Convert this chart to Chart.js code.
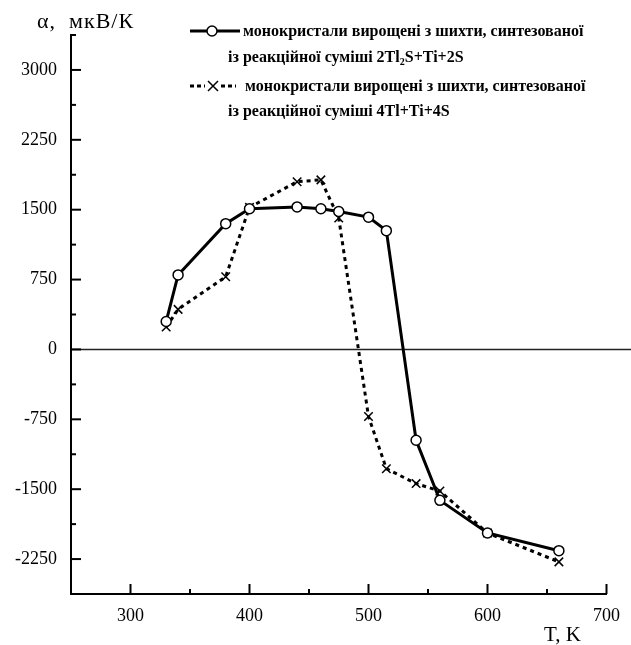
<!DOCTYPE html>
<html>
<head>
<meta charset="utf-8">
<script src="https://cdn.jsdelivr.net/npm/chart.js@4"></script>
<style>
  body { margin: 0; background: #fff; }
  canvas { display: block; }
</style>
</head>
<body>
<canvas id="chart" width="631" height="645"></canvas>
<script>
// data
const tempSolid = [330, 340, 380, 400, 440, 460, 475, 500, 515, 540, 560, 600, 660];
const alphaSolid = [300, 800, 1350, 1510, 1530, 1510, 1480, 1420, 1275, -975, -1620, -1970, -2160];
const tempDashed = [330, 340, 380, 400, 440, 460, 475, 500, 515, 540, 560, 600, 660];
const alphaDashed = [240, 430, 780, 1525, 1800, 1820, 1410, -720, -1280, -1440, -1520, -1970, -2280];

const xTicks = [300, 400, 500, 600, 700];
const yTicks = [-2250, -1500, -750, 0, 750, 1500, 2250, 3000];

const legendLine1 = "монокристали вирощені з шихти, синтезованої";
const legendLine2 = ["із реакційної суміші 2Tl", "2", "S+Ti+2S"];
const legendLine3 = "монокристали вирощені з шихти, синтезованої";
const legendLine4 = "із реакційної суміші 4Tl+Ti+4S";
const yTitle = "α,  мкВ/К";
const xTitle = "T, K";

const serif = '"Liberation Serif", "DejaVu Serif", serif';

function toPoints(xs, ys) {
  return xs.map((x, i) => ({ x: x, y: ys[i] }));
}

// zero line, inward ticks, titles, legend
const extras = {
  id: "extras",
  beforeDatasetsDraw(chart) {
    const ctx = chart.ctx, y = chart.scales.y, area = chart.chartArea;
    const y0 = y.getPixelForValue(0);
    ctx.save();
    ctx.strokeStyle = "#222";
    ctx.lineWidth = 1.5;
    ctx.beginPath();
    ctx.moveTo(area.left, y0);
    ctx.lineTo(chart.width, y0);
    ctx.stroke();
    ctx.restore();
  },
  afterDraw(chart) {
    const ctx = chart.ctx, x = chart.scales.x, y = chart.scales.y, area = chart.chartArea;
    ctx.save();
    ctx.strokeStyle = "#000";
    ctx.lineWidth = 2;
    // y ticks (major every 750, minor between)
    for (let v = y.min; v <= y.max; v += 375) {
      const p = y.getPixelForValue(v);
      const len = yTicks.includes(v) ? 10 : 5;
      ctx.beginPath();
      ctx.moveTo(area.left, p);
      ctx.lineTo(area.left + len, p);
      ctx.stroke();
    }
    // x ticks (major every 100, minor at 50s)
    for (let v = 300; v <= x.max; v += 50) {
      const p = x.getPixelForValue(v);
      const len = xTicks.includes(v) ? 10 : 5;
      ctx.beginPath();
      ctx.moveTo(p, area.bottom);
      ctx.lineTo(p, area.bottom - len);
      ctx.stroke();
    }

    ctx.fillStyle = "#000";
    ctx.textBaseline = "alphabetic";
    ctx.font = "22px " + serif;
    ctx.letterSpacing = "1px";
    ctx.fillText(yTitle, 37, 28);
    ctx.letterSpacing = "0px";
    ctx.font = "21px " + serif;
    ctx.fillText(xTitle, 544, 641);

    // legend
    const lf = "bold 16px " + serif;
    ctx.font = lf;
    ctx.lineWidth = 3;
    ctx.beginPath();
    ctx.moveTo(190, 31);
    ctx.lineTo(240, 31);
    ctx.stroke();
    ctx.lineWidth = 1.5;
    ctx.beginPath();
    ctx.arc(212, 31, 5, 0, Math.PI * 2);
    ctx.fillStyle = "#fff";
    ctx.fill();
    ctx.stroke();
    ctx.fillStyle = "#000";
    ctx.fillText(legendLine1, 243, 36);

    let tx = 228;
    ctx.fillText(legendLine2[0], tx, 62);
    tx += ctx.measureText(legendLine2[0]).width;
    ctx.font = "bold 10px " + serif;
    ctx.fillText(legendLine2[1], tx, 65);
    tx += ctx.measureText(legendLine2[1]).width;
    ctx.font = lf;
    ctx.fillText(legendLine2[2], tx, 62);

    ctx.lineWidth = 3;
    ctx.setLineDash([4, 3]);
    ctx.beginPath();
    ctx.moveTo(190, 86);
    ctx.lineTo(205, 86);
    ctx.moveTo(221, 86);
    ctx.lineTo(236, 86);
    ctx.stroke();
    ctx.setLineDash([]);
    ctx.lineWidth = 1.5;
    ctx.beginPath();
    ctx.moveTo(208, 81);
    ctx.lineTo(218, 91);
    ctx.moveTo(218, 81);
    ctx.lineTo(208, 91);
    ctx.stroke();
    ctx.fillText(legendLine3, 245, 91);
    ctx.fillText(legendLine4, 228, 116);
    ctx.restore();
  }
};

new Chart(document.getElementById("chart"), {
  type: "scatter",
  data: {
    datasets: [
      {
        label: "2Tl2S+Ti+2S",
        data: toPoints(tempSolid, alphaSolid),
        showLine: true,
        borderColor: "#000",
        borderWidth: 3,
        pointStyle: "circle",
        pointRadius: 5,
        pointBackgroundColor: "#fff",
        pointBorderColor: "#000",
        pointBorderWidth: 1.5
      },
      {
        label: "4Tl+Ti+4S",
        data: toPoints(tempDashed, alphaDashed),
        showLine: true,
        borderColor: "#000",
        borderWidth: 3,
        borderDash: [4, 4],
        pointStyle: "crossRot",
        pointRadius: 6,
        pointBorderColor: "#000",
        pointBorderWidth: 1.5
      }
    ]
  },
  options: {
    responsive: false,
    animation: false,
    layout: { padding: { top: 35, right: 24, left: 0, bottom: 0 } },
    plugins: {
      legend: { display: false },
      tooltip: { enabled: false }
    },
    scales: {
      x: {
        type: "linear",
        min: 250,
        max: 700,
        afterFit(scale) { scale.height = 51; },
        afterBuildTicks(scale) { scale.ticks = xTicks.map(v => ({ value: v })); },
        grid: { display: false, drawTicks: false },
        border: { display: true, color: "#000", width: 2 },
        ticks: { color: "#000", padding: 11, font: { family: serif, size: 18 }, maxRotation: 0,
                 callback: v => String(v) }
      },
      y: {
        min: -2625,
        max: 3375,
        afterFit(scale) { scale.width = 71; },
        afterBuildTicks(scale) { scale.ticks = yTicks.map(v => ({ value: v })); },
        grid: { display: false, drawTicks: false },
        border: { display: true, color: "#000", width: 2 },
        ticks: { color: "#000", padding: 14, font: { family: serif, size: 18 },
                 callback: v => String(v) }
      }
    }
  },
  plugins: [extras]
});
</script>
</body>
</html>
